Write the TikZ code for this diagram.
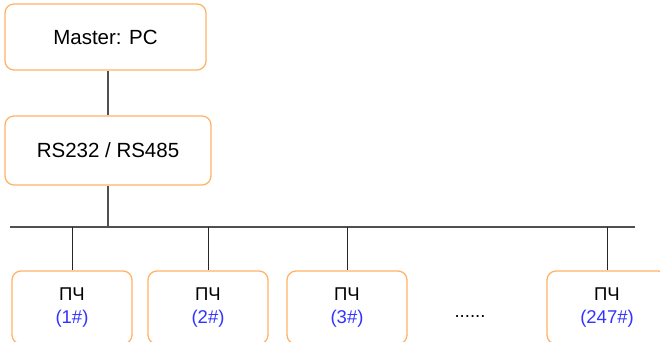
\documentclass[tikz,border=0pt]{standalone}
\usepackage{fontspec}
\setmainfont{Liberation Sans}
\usepackage{xcolor}
\usetikzlibrary{positioning, calc}

\definecolor{boxorange}{HTML}{FFB366}
\definecolor{idblue}{HTML}{3333FF}
\definecolor{wiregray}{HTML}{505050}

\tikzset{
    unitbox/.style={draw=boxorange, line width=1.3pt, fill=white, rounded corners=9pt, align=center},
    bigtext/.style={font=\fontsize{20.5}{24}\selectfont},
    smalltext/.style={font=\fontsize{18.5}{23}\selectfont},
    wire/.style={draw=wiregray, line width=1.4pt},
    drop/.style={draw=black!85, line width=0.9pt}
}

\begin{document}
\begin{tikzpicture}[x=1pt, y=1pt]
    \useasboundingbox (0,0) rectangle (660,342);
    % Master
    \node[unitbox, bigtext, minimum width=201pt, minimum height=66pt] (master) at (105.5, 305) {Master: PC};
    % Converter
    \node[unitbox, bigtext, minimum width=206pt, minimum height=69pt] (conv) at (108, 191.5) {RS232 / RS485};

    % Bus
    \coordinate (busL) at (10, 115);
    \coordinate (busR) at (635, 115);
    \draw[wire] (busL) -- (busR);
    \draw[wire] (conv.north) -- (conv.north |- master.south);
    \draw[wire] (conv.south) -- (conv.south |- busL);

    % Slaves
    \node[unitbox, smalltext, minimum width=120pt, minimum height=73pt] (pch1) at (72, 34.5) {ПЧ\\\textcolor{idblue}{(1\#)}};
    \node[unitbox, smalltext, minimum width=120pt, minimum height=73pt] (pch2) at (208, 34.5) {ПЧ\\\textcolor{idblue}{(2\#)}};
    \node[unitbox, smalltext, minimum width=120pt, minimum height=73pt] (pch3) at (347, 34.5) {ПЧ\\\textcolor{idblue}{(3\#)}};
    \node[unitbox, smalltext, minimum width=120pt, minimum height=73pt] (pchN) at (607, 34.5) {ПЧ\\\textcolor{idblue}{(247\#)}};
    \node[smalltext] (dots) at (470, 25) {......};

    % Drops
    \draw[drop] (pch1.north) -- (pch1.north |- busL);
    \draw[drop] (pch2.north) -- (pch2.north |- busL);
    \draw[drop] (pch3.north) -- (pch3.north |- busL);
    \draw[drop] (pchN.north) -- (pchN.north |- busL);
\end{tikzpicture}
\end{document}
